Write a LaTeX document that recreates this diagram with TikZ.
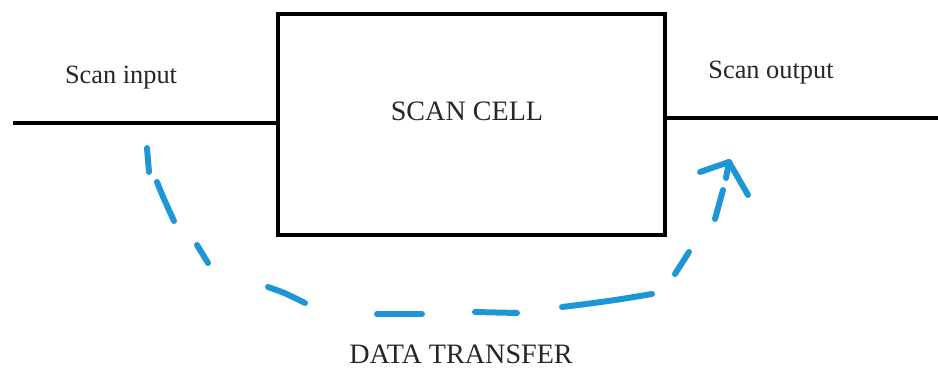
\documentclass[tikz,border=0pt]{standalone}
\usepackage{fontspec}
\setmainfont{Liberation Serif}
\definecolor{flowblue}{RGB}{28,150,215}
\begin{document}
\begin{tikzpicture}[x=0.02cm,y=-0.02cm,
  wire/.style={line width=2.3pt,black},
  cellbox/.style={draw=black,line width=2.3pt,minimum width=7.74cm,minimum height=4.42cm,inner sep=0pt},
  lbl/.style={font=\fontsize{15}{18}\selectfont,text=black!85,inner sep=0pt},
  biglbl/.style={lbl,font=\fontsize{16}{19}\selectfont},
  stroke/.style={draw=flowblue,line width=3.4pt,line cap=round,line join=round}]
\useasboundingbox (0,0) rectangle (938,371);

% the scan cell and its two wires
\node[cellbox] (cell) at (471.5,124.5) {};
\node[biglbl] (cellname) at (467,111) {SCAN CELL};
\coordinate (inL) at (13,123);
\coordinate (outR) at (938,118);
\draw[wire] (inL) -- (inL -| cell.west);
\draw[wire] (outR -| cell.east) -- (outR);
\node[lbl] (inlbl) at (121,78) {Scan input};
\node[lbl] (outlbl) at (771,73) {Scan output};
\node[biglbl] (xfer) at (461,354) {DATA TRANSFER};

% hand-drawn dashed transfer path, input side to output side
\coordinate (d1a) at (147,148); \coordinate (d1b) at (149,172);
\coordinate (d2a) at (157,182); \coordinate (d2b) at (174,221);
\coordinate (d3a) at (197,245); \coordinate (d3b) at (208,263);
\coordinate (d4a) at (268,287); \coordinate (d4b) at (305,303);
\coordinate (d5a) at (377,314); \coordinate (d5b) at (422,314);
\coordinate (d6a) at (475,312); \coordinate (d6b) at (517,313);
\coordinate (d7a) at (562,307); \coordinate (d7b) at (652,294);
\coordinate (d8a) at (675,274); \coordinate (d8b) at (689,252);
\coordinate (d9a) at (715,219); \coordinate (d9b) at (723,190);
\coordinate (tip) at (729,162);
\coordinate (barbL) at (700,172);
\coordinate (barbR) at (748,195);

\draw[stroke] (d1a) -- (d1b);
\draw[stroke] (d2a) .. controls (163,197) .. (d2b);
\draw[stroke] (d3a) -- (d3b);
\draw[stroke] (d4a) .. controls (285,293) .. (d4b);
\draw[stroke] (d5a) -- (d5b);
\draw[stroke] (d6a) -- (d6b);
\draw[stroke] (d7a) .. controls (610,301) .. (d7b);
\draw[stroke] (d8a) -- (d8b);
\draw[stroke] (d9a) -- (d9b);
\draw[stroke] (barbL) -- (tip) -- (barbR);
\draw[stroke] (tip) -- (726,178);
\end{tikzpicture}
\end{document}
